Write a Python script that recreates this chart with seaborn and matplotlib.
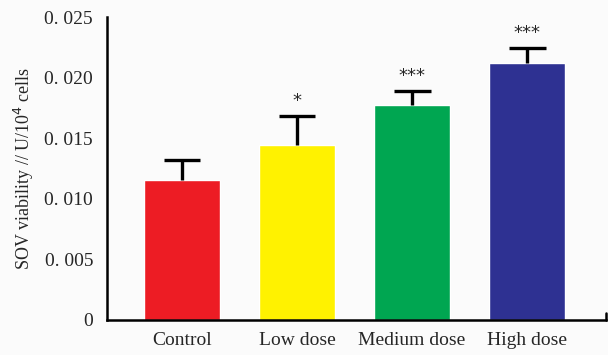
import matplotlib
matplotlib.use('Agg')
import matplotlib.pyplot as plt
import seaborn as sb
import numpy as np

groups = ['Control', 'Low dose', 'Medium dose', 'High dose']
means = [0.01153, 0.01446, 0.01774, 0.02123]
errs = [0.00165, 0.00240, 0.00118, 0.00124]
stars = ['', '*', '***', '***']
colors = ['#ED1C24', '#FFF200', '#00A651', '#2E3192']
yticks = [0, 0.005, 0.010, 0.015, 0.020, 0.025]
ytick_labels = ['0', '0. 005', '0. 010', '0. 015', '0. 020', '0. 025']

sb.set_style('white')
plt.rcParams['font.family'] = ['Liberation Serif', 'DejaVu Serif']

fig = plt.figure(figsize=[6.08, 3.55], dpi=100, facecolor='#FBFBFB')
ax = fig.add_axes([0.176, 0.0986, 0.821, 0.853])
ax.set_facecolor('#FBFBFB')

sb.barplot(x=groups, y=means, hue=groups, palette=colors, width=0.66,
           saturation=1, legend=False, ax=ax)

# upper error bars only
xpos = np.arange(len(groups))
tops = np.array(means) + np.array(errs)
ax.vlines(xpos, means, tops, color='black', lw=2.4, zorder=3)
ax.hlines(tops, xpos - 0.16, xpos + 0.16, color='black', lw=2.4, zorder=3)
for i, s in enumerate(stars):
    if s:
        ax.text(i, tops[i] + 0.0005, s, ha='center', va='bottom',
                fontsize=13, family='DejaVu Sans')

ax.set_xlim(-0.652, 3.687)
ax.set_ylim(0, 0.025)
ax.set_yticks(yticks)
ax.set_yticklabels(ytick_labels, fontsize=14)
ax.tick_params(axis='y', direction='in', length=6, width=1.5, pad=10)
ax.tick_params(axis='x', length=0, labelsize=14, pad=9)
ax.set_ylabel('SOV viability // U/10$^4$ cells', fontsize=13, labelpad=6)
ax.spines['top'].set_visible(False)
ax.spines['right'].set_visible(False)
ax.spines['left'].set_linewidth(1.8)
ax.spines['bottom'].set_linewidth(1.8)
ax.spines['left'].set_color('black')
ax.spines['bottom'].set_color('black')
ax.plot([3.687, 3.687], [0, 0.0006], color='black', lw=1.8, clip_on=False)

fig.savefig('out.png', dpi=100, facecolor=fig.get_facecolor())
